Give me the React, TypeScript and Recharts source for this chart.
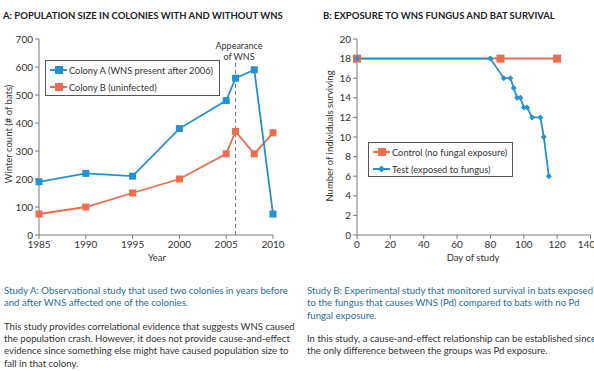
import React from 'react';
import { LineChart, Line, XAxis, YAxis, ReferenceLine } from 'recharts';

// Study A: winter counts per colony
const years = [1985, 1990, 1995, 2000, 2005, 2006, 2008, 2010];
const colonyA = [190, 220, 210, 380, 480, 560, 590, 75];
const colonyB = [75, 100, 150, 200, 290, 370, 290, 365];
const yearTicks = [1985, 1990, 1995, 2000, 2005, 2010];
const countTicks = [0, 100, 200, 300, 400, 500, 600, 700];

// Study B: survival by day
const controlDays = [0, 86, 120];
const controlAlive = [18, 18, 18];
const testDays = [0, 80, 88, 92, 94, 96, 98, 100, 102, 105, 110, 112, 115];
const testAlive = [18, 18, 16, 16, 15, 14, 14, 13, 13, 12, 12, 10, 6];
const dayTicks = [0, 20, 40, 60, 80, 100, 120, 140];
const aliveTicks = [0, 2, 4, 6, 8, 10, 12, 14, 16, 18, 20];

const BLUE = '#2492d1';
const ORANGE = '#ee6c4d';
const AXIS = '#7a7a7a';
const FONT = 'Lato, "Open Sans", sans-serif';

const popData = years.map((y, i) => ({ year: y, a: colonyA[i], b: colonyB[i] }));
const controlData = controlDays.map((d, i) => ({ day: d, n: controlAlive[i] }));
const testData = testDays.map((d, i) => ({ day: d, n: testAlive[i] }));

const square = (color: string, size: number) => (p: any) => {
  if (p.cx == null || p.cy == null) return <g key={p.index} />;
  return <rect key={p.index} x={p.cx - size / 2} y={p.cy - size / 2} width={size} height={size} fill={color} />;
};

const diamond = (color: string, r: number) => (p: any) => {
  if (p.cx == null || p.cy == null) return <g key={p.index} />;
  const { cx, cy } = p;
  return <polygon key={p.index} points={`${cx},${cy - r} ${cx + r},${cy} ${cx},${cy + r} ${cx - r},${cy}`} fill={color} />;
};

const tickStyle = { fill: '#333', fontSize: 10, fontFamily: FONT };

const vLabel = (text: string, x: number, y: number) => () => (
  <text transform={`translate(${x},${y}) rotate(-90)`} textAnchor="middle" dominantBaseline="central" fill="#333" fontSize={9.5} fontFamily={FONT}>
    {text}
  </text>
);

const hLabel = (text: string, x: number, y: number) => () => (
  <text x={x} y={y} textAnchor="middle" dominantBaseline="central" fill="#333" fontSize={9.5} fontFamily={FONT}>
    {text}
  </text>
);

function LegendBox({ left, top, width, height, items }: any) {
  return (
    <div style={{ position: 'absolute', left, top, width, height, border: '1px solid #555', boxSizing: 'border-box', background: '#fff', fontFamily: FONT, fontSize: 9.3, color: '#333' }}>
      {items.map((it: any, i: number) => (
        <div key={i} style={{ position: 'absolute', left: 4, top: 2 + i * 17, height: 14, display: 'flex', alignItems: 'center', whiteSpace: 'nowrap' }}>
          <svg width={17} height={10} style={{ marginRight: 2 }}>
            <line x1={0} y1={5} x2={17} y2={5} stroke={it.color} strokeWidth={2} />
            {it.shape === 'square'
              ? <rect x={5} y={1} width={8} height={8} fill={it.color} />
              : <polygon points="8.5,1.5 12,5 8.5,8.5 5,5" fill={it.color} />}
          </svg>
          <span>{it.label}</span>
        </div>
      ))}
    </div>
  );
}

export default function App() {
  return (
    <div style={{ position: 'absolute', left: 0, top: 0, width: 594, height: 371, overflow: 'hidden', background: '#fff', fontFamily: FONT }}>
      <div style={{ position: 'absolute', left: 3, top: 10, fontSize: 9.5, fontWeight: 700, color: '#222', whiteSpace: 'nowrap' }}>
        A: POPULATION SIZE IN COLONIES WITH AND WITHOUT WNS
      </div>
      <div style={{ position: 'absolute', left: 323, top: 10, fontSize: 9.5, fontWeight: 700, color: '#222', whiteSpace: 'nowrap' }}>
        B: EXPOSURE TO WNS FUNGUS AND BAT SURVIVAL
      </div>

      <div style={{ position: 'absolute', left: 0, top: 0 }}>
        <LineChart width={300} height={265} data={popData} margin={{ top: 39, right: 27, left: 0, bottom: 0 }}>
          <XAxis dataKey="year" type="number" domain={[1985, 2010]} ticks={yearTicks} stroke={AXIS} tickSize={4} tick={tickStyle} height={30} label={{ content: hLabel('Year', 157, 257) }} />
          <YAxis domain={[0, 700]} ticks={countTicks} stroke={AXIS} tickSize={4} tick={tickStyle} width={39} label={{ content: vLabel('Winter count (# of bats)', 8, 134) }} />
          <ReferenceLine segment={[{ x: 2006, y: 0 }, { x: 2006, y: 615 }]} stroke="#777" strokeDasharray="4 3" strokeWidth={1} />
          <Line dataKey="b" stroke={ORANGE} strokeWidth={1.8} dot={square(ORANGE, 7)} isAnimationActive={false} />
          <Line dataKey="a" stroke={BLUE} strokeWidth={1.8} dot={square(BLUE, 7)} isAnimationActive={false} />
        </LineChart>
      </div>
      <div style={{ position: 'absolute', left: 209, top: 40, width: 60, textAlign: 'center', fontSize: 9, lineHeight: '11px', color: '#333' }}>
        Appearance<br />of WNS
      </div>
      <LegendBox left={45} top={60} width={175} height={36} items={[
        { label: 'Colony A (WNS present after 2006)', color: BLUE, shape: 'square' },
        { label: 'Colony B (uninfected)', color: ORANGE, shape: 'square' },
      ]} />

      <div style={{ position: 'absolute', left: 300, top: 0 }}>
        <LineChart width={294} height={265} margin={{ top: 39, right: 3.5, left: 0, bottom: 0 }}>
          <XAxis dataKey="day" type="number" domain={[0, 140]} ticks={dayTicks} stroke={AXIS} tickSize={4} tick={tickStyle} height={30} allowDuplicatedCategory={false} label={{ content: hLabel('Day of study', 173, 257) }} />
          <YAxis domain={[0, 20]} ticks={aliveTicks} stroke={AXIS} tickSize={4} tick={tickStyle} width={57} label={{ content: vLabel('Number of individuals surviving', 29, 136) }} />
          <Line data={controlData} dataKey="n" stroke={ORANGE} strokeWidth={2} dot={square(ORANGE, 8)} isAnimationActive={false} />
          <Line data={testData} dataKey="n" stroke={BLUE} strokeWidth={1.8} dot={diamond(BLUE, 3)} isAnimationActive={false} />
        </LineChart>
      </div>
      <LegendBox left={368} top={142} width={145} height={35} items={[
        { label: 'Control (no fungal exposure)', color: ORANGE, shape: 'square' },
        { label: 'Test (exposed to fungus)', color: BLUE, shape: 'diamond' },
      ]} />

      <div style={{ position: 'absolute', left: 4, top: 285, width: 292, fontSize: 9.6, lineHeight: '12.4px', color: '#2b6c9c', whiteSpace: 'nowrap' }}>
        Study A: Observational study that used two colonies in years before<br />and after WNS affected one of the colonies.
      </div>
      <div style={{ position: 'absolute', left: 4, top: 321, width: 292, fontSize: 9.6, lineHeight: '12.2px', color: '#333', whiteSpace: 'nowrap' }}>
        This study provides correlational evidence that suggests WNS caused<br />the population crash. However, it does not provide cause-and-effect<br />evidence since something else might have caused population size to<br />fall in that colony.
      </div>
      <div style={{ position: 'absolute', left: 307, top: 285, width: 287, fontSize: 9.6, lineHeight: '12.4px', color: '#2b6c9c', whiteSpace: 'nowrap' }}>
        Study B: Experimental study that monitored survival in bats exposed<br />to the fungus that causes WNS (Pd) compared to bats with no Pd<br />fungal exposure.
      </div>
      <div style={{ position: 'absolute', left: 307, top: 333, width: 287, fontSize: 9.6, lineHeight: '12.4px', color: '#333', whiteSpace: 'nowrap' }}>
        In this study, a cause-and-effect relationship can be established since<br />the only difference between the groups was Pd exposure.
      </div>
    </div>
  );
}
